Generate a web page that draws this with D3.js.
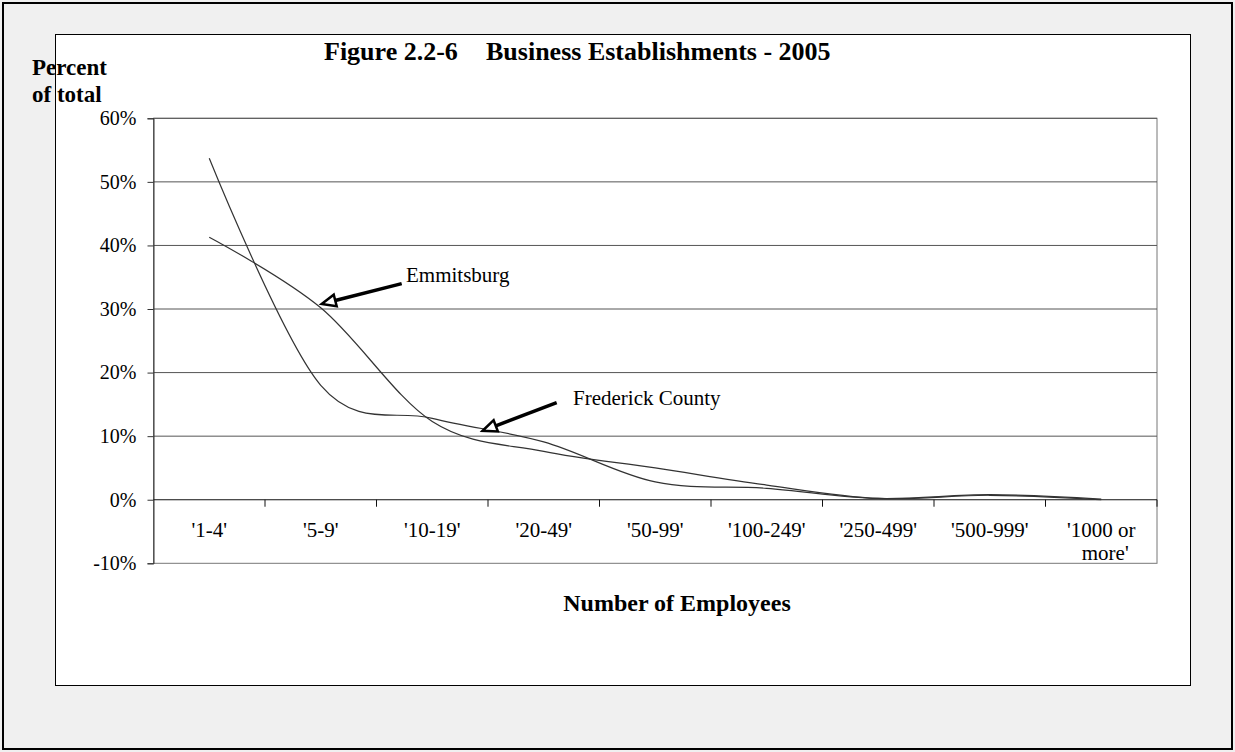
<!DOCTYPE html>
<html>
<head>
<meta charset="utf-8">
<script src="https://cdn.jsdelivr.net/npm/d3@7"></script>
<style>
html,body{margin:0;padding:0;background:#f0f0f0;}
svg{display:block;}
text{font-family:"Liberation Serif","Times New Roman",serif;fill:#000;}
</style>
</head>
<body>
<svg id="chart" width="1235" height="752"></svg>
<script>
// ---- data ----
const categories = ["'1-4'", "'5-9'", "'10-19'", "'20-49'", "'50-99'", "'100-249'", "'250-499'", "'500-999'", "'1000 or more'"];
const emmitsburg = [41.3, 30.2, 12.3, 7.6, 5.0, 2.3, 0.2, 0.7, 0.0];
const frederick  = [53.7, 18.0, 12.8, 9.1, 2.8, 1.8, 0.2, 0.8, 0.1];
const yTicks = [-10, 0, 10, 20, 30, 40, 50, 60];
const titleLeft = "Figure 2.2-6";
const titleRight = "Business Establishments - 2005";

(function () {
const svg = d3.select("#chart");

// outer frame
svg.append("rect").attr("x", 3).attr("y", 3).attr("width", 1229).attr("height", 746)
  .attr("fill", "#f0f0f0").attr("stroke", "#000").attr("stroke-width", 2);
// chart area
svg.append("rect").attr("x", 55.5).attr("y", 34.5).attr("width", 1135).attr("height", 651)
  .attr("fill", "#fff").attr("stroke", "#000").attr("stroke-width", 1);

const pLeft = 153.5, pRight = 1157, pTop = 118.3, pBottom = 563.3;
const x = d3.scaleBand().domain(categories).range([pLeft, pRight]).padding(0);
const xi = d3.scaleLinear().domain([0, categories.length]).range([pLeft, pRight]);
const y = d3.scaleLinear().domain([-10, 60]).range([pBottom, pTop]);
const cx = c => x(c) + x.bandwidth() / 2;

// plot border
svg.append("rect").attr("x", pLeft).attr("y", pTop).attr("width", pRight - pLeft).attr("height", pBottom - pTop)
  .attr("fill", "none").attr("stroke", "#777").attr("stroke-width", 1);

// gridlines
svg.append("g").selectAll("line").data(yTicks.filter(d => d > 0)).join("line")
  .attr("x1", pLeft).attr("x2", pRight)
  .attr("y1", d => y(d)).attr("y2", d => y(d))
  .attr("stroke", "#555").attr("stroke-width", 1);

// y axis
const yAxis = d3.axisLeft(y).tickValues(yTicks).tickSize(6).tickPadding(11).tickFormat(d => d + "%");
const gy = svg.append("g").attr("transform", `translate(${pLeft},0)`).call(yAxis);
gy.select(".domain").attr("stroke", "#333");
gy.selectAll(".tick line").attr("stroke", "#333");
gy.selectAll("text").style("font-size", "20px").style("font-family", "Liberation Serif").attr("fill", "#000");

// x axis line at 0
svg.append("line").attr("x1", pLeft).attr("x2", pRight).attr("y1", y(0)).attr("y2", y(0))
  .attr("stroke", "#111").attr("stroke-width", 1.2);
// ticks at category boundaries
svg.append("g").selectAll("line").data(categories).join("line")
  .attr("x1", c => x(c) + x.bandwidth()).attr("x2", c => x(c) + x.bandwidth())
  .attr("y1", y(0)).attr("y2", y(0) + 7)
  .attr("stroke", "#111").attr("stroke-width", 1);

// x labels
const xl = svg.append("g");
categories.forEach(c => {
  if (c === "'1000 or more'") {
    xl.append("text").attr("text-anchor", "middle").style("font-size", "21px")
      .attr("x", cx(c)).attr("y", 537).text("'1000 or");
    xl.append("text").attr("text-anchor", "middle").style("font-size", "21px")
      .attr("x", cx(c) + 4).attr("y", 560).text("more'");
  } else {
    xl.append("text").attr("text-anchor", "middle").style("font-size", "21px")
      .attr("x", cx(c)).attr("y", 537).text(c);
  }
});

// lines
const line = d3.line().x((d, i) => cx(categories[i])).y(d => y(d)).curve(d3.curveCardinal.tension(0));
[emmitsburg, frederick].forEach(s => {
  svg.append("path").datum(s).attr("d", line)
    .attr("fill", "none").attr("stroke", "#333").attr("stroke-width", 1.2);
});

// annotation arrows
function arrow(fromIdx, fromVal, toIdx, toVal) {
  const x1 = xi(fromIdx), y1 = y(fromVal), x2 = xi(toIdx), y2 = y(toVal);
  const ang = Math.atan2(y2 - y1, x2 - x1);
  const L = 14, W = 6;
  const bx = x2 - L * Math.cos(ang), by = y2 - L * Math.sin(ang);
  svg.append("line").attr("x1", x1).attr("y1", y1).attr("x2", bx).attr("y2", by)
    .attr("stroke", "#000").attr("stroke-width", 3.5);
  const px = -Math.sin(ang), py = Math.cos(ang);
  const pts = [[x2, y2], [bx + px * W, by + py * W], [bx - px * W, by - py * W]];
  svg.append("polygon").attr("points", pts.map(p => p.join(",")).join(" "))
    .attr("fill", "#fff").attr("stroke", "#000").attr("stroke-width", 2.5).attr("stroke-linejoin", "miter");
}
arrow(2.226, 34.0, 1.508, 30.8);
arrow(3.616, 15.26, 2.952, 10.85);

svg.append("text").attr("x", 406).attr("y", 282).style("font-size", "21px").text("Emmitsburg");
svg.append("text").attr("x", 573).attr("y", 405).style("font-size", "21px").text("Frederick County");

// titles
svg.append("text").attr("x", 324).attr("y", 60).style("font-size", "26px").style("font-weight", "bold").text(titleLeft);
svg.append("text").attr("x", 486).attr("y", 60).style("font-size", "26px").style("font-weight", "bold").text(titleRight);
svg.append("text").attr("x", 32).attr("y", 75).style("font-size", "23px").style("font-weight", "bold").text("Percent");
svg.append("text").attr("x", 32).attr("y", 102).style("font-size", "23px").style("font-weight", "bold").text("of total");
svg.append("text").attr("x", 677).attr("y", 611).attr("text-anchor", "middle")
  .style("font-size", "24px").style("font-weight", "bold").text("Number of Employees");
})();
</script>
</body>
</html>
